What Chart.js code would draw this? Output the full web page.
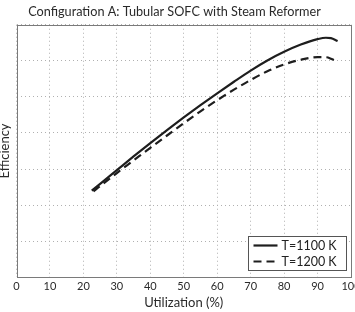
<!DOCTYPE html>
<html>
<head>
<meta charset="utf-8">
<script src="https://cdn.jsdelivr.net/npm/chart.js@4.4.1/dist/chart.umd.min.js"></script>
<style>
  html, body { margin: 0; padding: 0; background: #fff; }
</style>
</head>
<body>
<canvas id="effChart" width="355" height="312"></canvas>
<script>
// utilization (%) and efficiency
const utilT1100 = [22.5, 25, 30, 35, 40, 45, 50, 55, 60, 65, 70, 75, 80, 85, 90, 92.5, 94, 96];
const effT1100  = [0.240, 0.259, 0.297, 0.335, 0.372, 0.408, 0.443, 0.477, 0.510, 0.542, 0.573, 0.601, 0.625, 0.645, 0.660, 0.664, 0.663, 0.655];
const utilT1200 = [23, 25, 30, 35, 40, 45, 50, 55, 60, 65, 70, 75, 80, 85, 90, 92.5, 94, 95.7];
const effT1200  = [0.238, 0.253, 0.289, 0.324, 0.359, 0.393, 0.427, 0.460, 0.491, 0.520, 0.547, 0.571, 0.590, 0.603, 0.610, 0.610, 0.606, 0.598];
const seriesNames = ['T=1100 K', 'T=1200 K'];
const xTickValues = [0, 10, 20, 30, 40, 50, 60, 70, 80, 90, 100];

const FONT = 'Lato';
const lineColor = '#1e1e1e';

const toPoints = (xs, ys) => xs.map((x, i) => ({ x: x, y: ys[i] }));

// box around the plot + legend in the lower right corner
const framePlugin = {
    id: 'frameAndLegend',
    afterDraw(chart) {
        const ctx = chart.ctx;
        const a = chart.chartArea;
        ctx.save();
        ctx.strokeStyle = '#7a7a7a';
        ctx.lineWidth = 1;
        ctx.strokeRect(Math.round(a.left) + 0.5, Math.round(a.top) + 0.5,
            Math.round(a.right - a.left) - 1, Math.round(a.bottom - a.top) - 1);

        const w = 98, h = 34;
        const bx = Math.round(a.right - 5 - w) + 0.5;
        const by = Math.round(a.bottom - 7 - h) + 0.5;
        ctx.fillStyle = '#fff';
        ctx.fillRect(bx, by, w, h);
        ctx.strokeStyle = '#555';
        ctx.strokeRect(bx, by, w, h);

        ctx.font = '12.5px ' + FONT;
        ctx.textBaseline = 'middle';
        chart.data.datasets.forEach((ds, i) => {
            const y = by + 9 + i * 16;
            ctx.strokeStyle = ds.borderColor;
            ctx.lineWidth = ds.borderWidth;
            ctx.setLineDash(ds.borderDash || []);
            ctx.beginPath();
            ctx.moveTo(bx + 5, y);
            ctx.lineTo(bx + 29, y);
            ctx.stroke();
            ctx.setLineDash([]);
            ctx.fillStyle = '#222';
            ctx.fillText(ds.label, bx + 33, y);
        });
        ctx.restore();
    }
};

const ctx = document.getElementById('effChart').getContext('2d');
new Chart(ctx, {
    type: 'line',
    data: {
        datasets: [{
            label: seriesNames[0],
            data: toPoints(utilT1100, effT1100),
            borderColor: lineColor,
            borderWidth: 2.2,
            pointRadius: 0,
            cubicInterpolationMode: 'monotone',
            fill: false
        }, {
            label: seriesNames[1],
            data: toPoints(utilT1200, effT1200),
            borderColor: lineColor,
            borderWidth: 2.2,
            borderDash: [8, 5],
            pointRadius: 0,
            cubicInterpolationMode: 'monotone',
            fill: false
        }]
    },
    options: {
        responsive: false,
        animation: false,
        layout: { padding: { left: -2, right: 4, top: 0, bottom: 0 } },
        plugins: {
            legend: { display: false },
            tooltip: { enabled: false },
            title: {
                display: true,
                text: 'Configuration A: Tubular SOFC with Steam Reformer',
                color: '#2a2a2a',
                font: { family: FONT, size: 12.7, weight: 'normal', lineHeight: 1.2 },
                padding: { top: 4.2, bottom: 5.3 }
            }
        },
        scales: {
            x: {
                type: 'linear',
                min: 0,
                max: 100,
                afterBuildTicks: (scale) => { scale.ticks = xTickValues.map(v => ({ value: v })); },
                afterFit: (scale) => { scale.paddingLeft = 0; scale.paddingRight = 0; },
                grid: { color: '#b0b0b0', lineWidth: 1, drawTicks: false },
                border: { display: false, dash: [1, 3] },
                ticks: { color: '#2a2a2a', font: { family: FONT, size: 11, lineHeight: 1.2 }, padding: 3, maxRotation: 0 },
                title: {
                    display: true,
                    text: 'Utilization (%)',
                    color: '#2a2a2a',
                    font: { family: FONT, size: 13, lineHeight: 1 },
                    padding: { top: 0, bottom: 2.5 }
                }
            },
            y: {
                min: 0,
                max: 0.7,
                ticks: { display: false, stepSize: 0.1 },
                afterFit: (scale) => { scale.width = 18.5; },
                grid: { color: '#b0b0b0', lineWidth: 1, drawTicks: false },
                border: { display: false, dash: [1, 3] },
                title: {
                    display: true,
                    text: 'Efficiency',
                    color: '#2a2a2a',
                    font: { family: FONT, size: 13, lineHeight: 1 },
                    padding: 0
                }
            }
        }
    },
    plugins: [framePlugin]
});
</script>
</body>
</html>
